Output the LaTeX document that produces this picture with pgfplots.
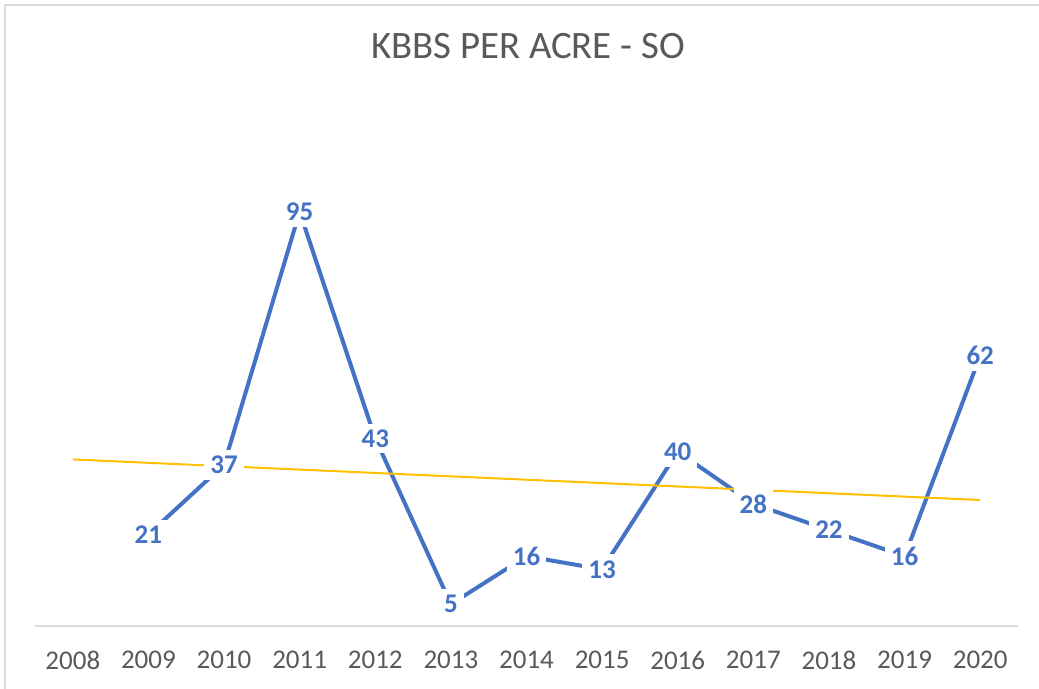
\documentclass[border=0pt]{standalone}
\usepackage{fontspec}
\setmainfont{Carlito}
\usepackage{pgfplots}
\pgfplotsset{compat=1.18}
\definecolor{lineblue}{HTML}{4472C4}
\definecolor{trendgold}{HTML}{FFC000}
\definecolor{txtgray}{HTML}{595959}
\definecolor{axgray}{HTML}{D9D9D9}
\begin{document}
\begin{tikzpicture}
\useasboundingbox (0,0) rectangle (519.5pt,344.5pt);
\draw[axgray, line width=0.8pt] (2.5pt,0) -- (2.5pt,342pt) -- (519.5pt,342pt);
\node[txtgray, font=\fontsize{19.4}{23}\selectfont] at (264pt,321.5pt) {KBBS PER ACRE - SO};
\begin{axis}[
  at={(17.5pt,31.5pt)}, anchor=south west,
  scale only axis, width=491.5pt, height=218pt,
  xmin=-0.5, xmax=12.5, ymin=0, ymax=100,
  axis x line=bottom, axis y line=none,
  x axis line style={-, axgray, line width=1pt},
  xtick={0,1,2,3,4,5,6,7,8,9,10,11,12},
  xticklabels={2008,2009,2010,2011,2012,2013,2014,2015,2016,2017,2018,2019,2020},
  ytick=\empty,
  major tick length=0pt,
  /pgf/number format/assume math mode=true,
  xticklabel style={anchor=center, yshift=-17pt, text=txtgray, font=\fontsize{13.5}{16}\selectfont},
  clip=false,
]
\addplot[lineblue, line width=2pt, no markers,
  nodes near coords,
  every node near coord/.append style={anchor=center, fill=white, inner sep=3pt, text=lineblue, font=\fontsize{13.5}{16}\selectfont\bfseries}]
  coordinates {(1,21) (2,37) (3,95) (4,43) (5,5) (6,16) (7,13) (8,40) (9,28) (10,22) (11,16) (12,62)};
\addplot[trendgold, line width=1pt, no markers] coordinates {(0,38.2) (12,28.9)};
\end{axis}
\end{tikzpicture}
\end{document}
